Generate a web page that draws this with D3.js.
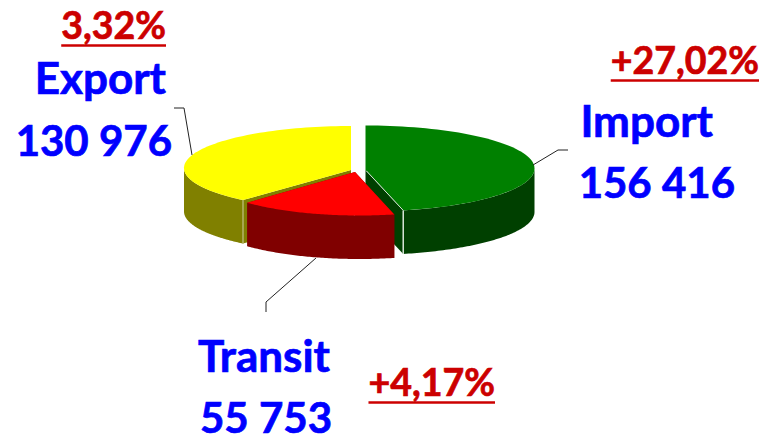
<!DOCTYPE html>
<html><head><meta charset="utf-8">
<script src="https://cdn.jsdelivr.net/npm/d3@7"></script>
<style>html,body{margin:0;background:#fff}svg{display:block}text{font-family:Lato,"Noto Sans",sans-serif;font-weight:700}</style>
</head><body><svg id="c" width="769" height="437"></svg>
<script>
const categories=["Import","Transit","Export"];
const values=[156416,55753,130976];
const valueLabels=["156 416","55 753","130 976"];
const changes=["+27,02%","+4,17%","3,32%"];
const topColors=["#008000","#ff0000","#ffff00"];
const sideColors=["#004000","#800000","#808000"];
const edgeColors=["#d8e4d8","#800000","#b4b46a"];
const apexes=[[365.5,170],[355,172],[351,170]];
const centers=[[365.5,168.5],[359,172],[351,168]];
const radiiX=[169,158,167];
const radiiY=[43,43.5,42];
const anglePads=[[0,3],[3,2.4],[-2.3,0]];
const depth=43.5;
const nameLayout=[[713,137],[330,372],[166,94]];
const valueLayout=[[735,198],[332,433],[172,156]];
const changeLayout=[[759,74],[495,396],[166,39]];
const underlineGap=6.5;
const leaders=[[[533,165],[558,150],[568,150]],[[316,258],[266,302],[266,312]],[[192,155],[184,108],[174,108]]];

const svg=d3.select("#c");
const arcs=d3.pie().sort(null).startAngle(0).endAngle(2*Math.PI)(values);
const line=d3.line();
const rad=d=>d*Math.PI/180;
function pt(i,a,dz=0){return [centers[i][0]+radiiX[i]*Math.sin(a),centers[i][1]-radiiY[i]*Math.cos(a)+dz];}
function sweep(i,a0,a1,dz=0){const n=80;return d3.range(n+1).map(k=>pt(i,a0+(a1-a0)*k/n,dz));}

function drawSlice(i){
  const g=svg.append("g");
  const a=arcs[i],c=apexes[i];
  const s=a.startAngle+rad(anglePads[i][0]),e=a.endAngle+rad(anglePads[i][1]);
  [s,e].forEach(t=>{
    const p=pt(i,t);
    g.append("path").attr("fill",sideColors[i]).attr("d",line([c,p,[p[0],p[1]+depth],[c[0],c[1]+depth]])+"Z");
  });
  const from=Math.max(s,Math.PI/2),to=Math.min(e,3*Math.PI/2);
  if(to>from){
    g.append("path").attr("fill",sideColors[i]).attr("d",line(sweep(i,from,to).concat(sweep(i,to,from,depth)))+"Z");
  }
  g.append("path").attr("fill",topColors[i]).attr("d",line([c].concat(sweep(i,s,e)))+"Z");
  if(i!==1){
    const p=pt(i,i===0?e:s);
    g.append("path").attr("stroke",edgeColors[i]).attr("stroke-width",1.5).attr("fill","none")
      .attr("d",line([p,[p[0],p[1]+depth]]));
    if(i===0) g.append("path").attr("stroke",edgeColors[i]).attr("stroke-width",1).attr("fill","none").attr("d",line([[c[0]+1,c[1]+1],p]));
  }
}
[2,0,1].forEach(drawSlice);
leaders.forEach(l=>svg.append("path").attr("d",line(l)).attr("fill","none").attr("stroke","#222").attr("stroke-width",1));

categories.forEach((n,i)=>{
  svg.append("text").text(n).attr("x",nameLayout[i][0]).attr("y",nameLayout[i][1]).attr("text-anchor","end").attr("font-size",44).attr("fill","#0000ff").attr("stroke","#0000ff").attr("stroke-width",.7);
  svg.append("text").text(valueLabels[i]).attr("x",valueLayout[i][0]).attr("y",valueLayout[i][1]).attr("text-anchor","end").attr("font-size",42).attr("fill","#0000ff").attr("stroke","#0000ff").attr("stroke-width",.7);
  const t=svg.append("text").text(changes[i]).attr("x",changeLayout[i][0]).attr("y",changeLayout[i][1]).attr("text-anchor","end").attr("font-size",37.5).attr("fill","#cc0000").attr("stroke","#cc0000").attr("stroke-width",.7);
  const w=t.node().getComputedTextLength();
  const uy=changeLayout[i][1]+underlineGap;
  svg.append("path").attr("d",line([[changeLayout[i][0]-w,uy],[changeLayout[i][0],uy]])).attr("stroke","#cc0000").attr("stroke-width",2.5).attr("fill","none");
});
</script></body></html>
